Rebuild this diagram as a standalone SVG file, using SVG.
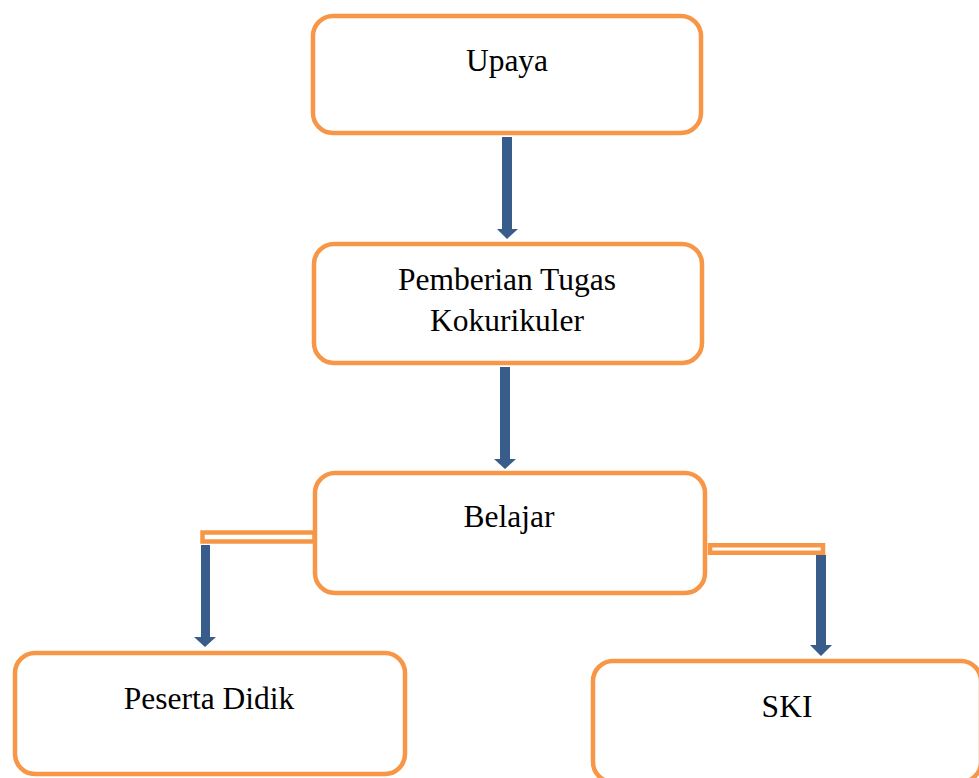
<svg xmlns="http://www.w3.org/2000/svg" width="979" height="778" viewBox="0 0 979 778">
<style>
.box{fill:#fff;stroke:#F79646;stroke-width:4.5}
.lbl{font-family:"Liberation Serif","Times New Roman",serif;font-size:31.5px;fill:#000;text-anchor:middle}
.arr{fill:#385D8A}
.bar{fill:#fff;stroke:#F79646;stroke-width:4.5}
</style>
<rect width="979" height="778" fill="#fff"/>
<g id="connectors">
<polygon class="arr" points="502,137 512,137 512,229 518,229 507,239 497,229 502,229"/>
<polygon class="arr" points="500,367 510,367 510,459 516,459 505,469 494,459 500,459"/>
<rect class="bar" x="202.5" y="532.5" width="112" height="9"/>
<polygon class="arr" points="201,545 210,545 210,637 216,637 205,647 194,637 201,637"/>
<rect class="bar" x="710" y="545.25" width="113" height="7.5"/>
<polygon class="arr" points="816,555 826,555 826,645 832,645 821,656 810,645 816,645"/>
</g>
<g id="upaya">
<rect class="box" x="313" y="16" width="388" height="117" rx="20"/>
<text class="lbl" x="507" y="71">Upaya</text>
</g>
<g id="pemberian">
<rect class="box" x="314" y="244" width="388" height="119" rx="20"/>
<text class="lbl" x="507" y="290">Pemberian Tugas</text>
<text class="lbl" x="507" y="331">Kokurikuler</text>
</g>
<g id="belajar">
<rect class="box" x="315" y="473" width="390" height="120" rx="20"/>
<text class="lbl" x="509" y="527">Belajar</text>
</g>
<g id="peserta">
<rect class="box" x="15" y="653" width="390" height="121" rx="20"/>
<text class="lbl" x="209" y="709">Peserta Didik</text>
</g>
<g id="ski">
<rect class="box" x="593" y="661" width="388" height="121" rx="20"/>
<text class="lbl" x="787" y="717">SKI</text>
</g>
</svg>
